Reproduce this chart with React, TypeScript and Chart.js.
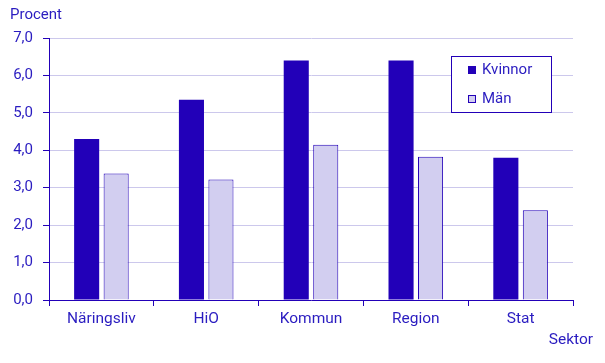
import React, { useEffect, useRef } from "react";
import { Chart, registerables } from "chart.js";

Chart.register(...registerables);

const categories = ["Näringsliv", "HiO", "Kommun", "Region", "Stat"];
const kvinnor = [4.3, 5.35, 6.4, 6.4, 3.8];
const man = [3.38, 3.22, 4.15, 3.83, 2.4];
const seriesNames = ["Kvinnor", "Män"];
const yTicks = [0, 1, 2, 3, 4, 5, 6, 7];

const DARK = "#2200B8";
const LIGHT = "#D2CEF0";
const GRID = "#CCC8EC";
const TEXT = "#2A1CC0";
const FONT = "Roboto, 'Liberation Sans', Arial, sans-serif";

const overlayPlugin = {
  id: "overlay",
  afterDraw(chart: any) {
    const ctx = chart.ctx;
    ctx.save();
    ctx.font = `15px ${FONT}`;
    ctx.fillStyle = TEXT;
    ctx.textBaseline = "middle";
    ctx.textAlign = "left";
    ctx.fillText("Procent", 10, 15);
    ctx.font = `15.5px ${FONT}`;
    ctx.textAlign = "right";
    ctx.fillText("Sektor", 593, 340);

    // legend box
    ctx.font = `15px ${FONT}`;
    const lx = 451.5, ly = 56.5, lw = 100, lh = 56;
    ctx.fillStyle = "#ffffff";
    ctx.fillRect(lx, ly, lw, lh);
    ctx.strokeStyle = DARK;
    ctx.lineWidth = 1;
    ctx.strokeRect(lx, ly, lw, lh);
    const ds = chart.data.datasets;
    const rows = [70, 99];
    ds.forEach((d: any, i: number) => {
      const cy = rows[i];
      ctx.fillStyle = d.backgroundColor;
      ctx.fillRect(468, cy - 4, 8, 8);
      if (d.borderWidth) {
        ctx.strokeStyle = d.borderColor;
        ctx.strokeRect(468.5, cy - 3.5, 7, 7);
      }
      ctx.fillStyle = TEXT;
      ctx.textAlign = "left";
      ctx.fillText(d.label, 482, cy);
    });
    ctx.restore();
  },
};

export default function App() {
  const ref = useRef<HTMLCanvasElement>(null);
  useEffect(() => {
    if (!ref.current) return;
    const chart = new Chart(ref.current, {
      type: "bar",
      data: {
        labels: categories,
        datasets: [
          {
            label: seriesNames[0],
            data: kvinnor,
            backgroundColor: DARK,
            borderWidth: 0,
            categoryPercentage: 0.563,
            barPercentage: 0.85,
          },
          {
            label: seriesNames[1],
            data: man,
            backgroundColor: LIGHT,
            borderColor: DARK,
            borderWidth: 1,
            categoryPercentage: 0.563,
            barPercentage: 0.85,
          },
        ],
      },
      options: {
        animation: false,
        responsive: false,
        maintainAspectRatio: false,
        layout: { padding: { top: 38, right: 32, bottom: 0, left: 0 } },
        plugins: { legend: { display: false }, tooltip: { enabled: false } },
        scales: {
          x: {
            grid: {
              offset: true,
              drawOnChartArea: false,
              drawTicks: true,
              tickLength: 6,
              tickColor: DARK,
            },
            border: { color: DARK, width: 1 },
            ticks: {
              color: TEXT,
              font: { family: FONT, size: 15.5 },
              padding: 4,
              maxRotation: 0,
            },
            afterFit(scale: any) {
              scale.height = 63;
            },
          },
          y: {
            min: 0,
            max: 7,
            afterBuildTicks(scale: any) {
              scale.ticks = yTicks.map((v) => ({ value: v }));
            },
            grid: {
              color: GRID,
              tickColor: DARK,
              tickLength: 6,
              drawTicks: true,
            },
            border: { color: DARK, width: 1 },
            ticks: {
              color: TEXT,
              font: { family: FONT, size: 15 },
              padding: 10,
              callback: (v: any) => Number(v).toFixed(1).replace(".", ","),
            },
            afterFit(scale: any) {
              scale.width = 49;
            },
          },
        },
      },
      plugins: [overlayPlugin],
    });
    return () => chart.destroy();
  }, []);
  return (
    <div style={{ position: "fixed", left: 0, top: 0, width: 605, height: 363, background: "#fff" }}>
      <canvas ref={ref} width={605} height={363} style={{ width: 605, height: 363 }} />
    </div>
  );
}
